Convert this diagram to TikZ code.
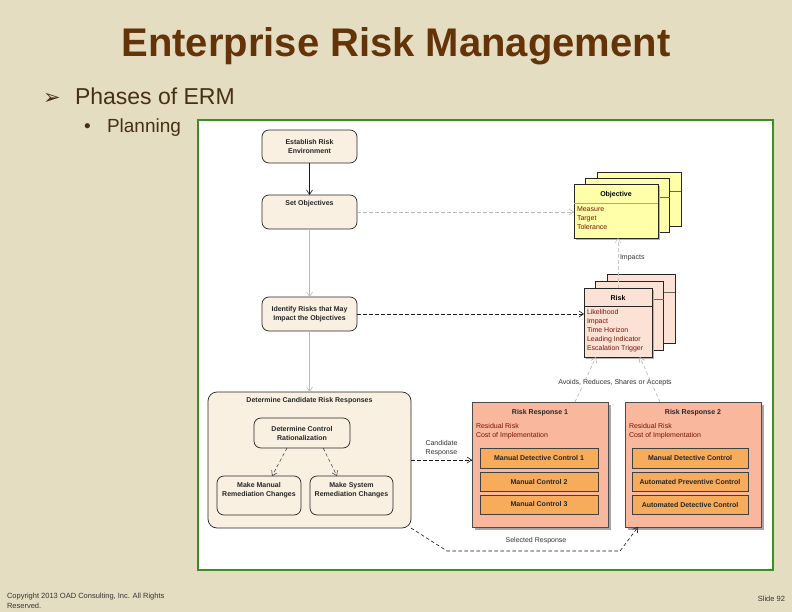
\documentclass[tikz,border=0pt]{standalone}
\usepackage{fontspec}
\setmainfont{Liberation Sans}
\newfontfamily\symfont{DejaVu Sans}
\usetikzlibrary{arrows.meta,shadows,calc}
\definecolor{bg}{RGB}{229,221,194}
\definecolor{titlebrown}{RGB}{100,52,8}
\definecolor{bodybrown}{RGB}{70,48,20}
\definecolor{framegreen}{RGB}{60,140,40}
\definecolor{actfill}{RGB}{249,240,226}
\definecolor{objfill}{RGB}{255,255,170}
\definecolor{riskfill}{RGB}{252,226,212}
\definecolor{respfill}{RGB}{249,183,158}
\definecolor{ctrlfill}{RGB}{247,172,92}
\definecolor{attrred}{RGB}{120,20,10}
\begin{document}
\begin{tikzpicture}[x=1pt,y=-1pt,
  every node/.style={inner sep=0pt, outer sep=0pt},
  dfont/.style={font=\fontsize{7}{9}\selectfont},
  dbold/.style={font=\fontsize{7}{9}\selectfont\bfseries},
  actbox/.style={draw=black!85, line width=0.7pt, fill=actfill, rounded corners=7pt,
    align=center, dbold, text=black!85},
  classbox/.style={draw=black!85, line width=0.6pt},
  objbox/.style={classbox, fill=objfill, minimum width=84pt, minimum height=54pt},
  riskbox/.style={classbox, fill=riskfill, minimum width=68pt, minimum height=69pt},
  sepline/.style={black!60, line width=0.5pt},
  attr/.style={dfont, text=attrred, align=left},
  respbox/.style={draw=black!70, line width=0.5pt, fill=respfill, minimum width=136pt,
    minimum height=125pt, drop shadow={shadow xshift=2.5pt, shadow yshift=-2.5pt, fill=black!35, opacity=1}},
  ctrlbox/.style={draw=black!75, line width=0.5pt, fill=ctrlfill, minimum height=19.5pt,
    dbold, text=black!85, drop shadow={shadow xshift=1.2pt, shadow yshift=-1.2pt, fill=black!55, opacity=1}},
  arr/.style={-{Straight Barb[length=4.5pt,width=6pt]}, line width=0.6pt},
  dline/.style={dash pattern=on 3.5pt off 2.5pt},
]
\useasboundingbox (0,0) rectangle (792,612);
\fill[bg] (0,0) rectangle (792,612);

% headings
\node[anchor=base, font=\fontsize{40}{48}\selectfont\bfseries, text=titlebrown] (title) at (396,57) {Enterprise Risk Management};
\node[anchor=base west, font=\symfont\bfseries\fontsize{21}{24}\selectfont, text=bodybrown] (arrowb) at (43,105) {➢};
\node[anchor=base west, font=\fontsize{23}{27}\selectfont, text=bodybrown] (phases) at (75,105) {Phases of ERM};
\node[anchor=base west, font=\fontsize{19}{22}\selectfont, text=bodybrown] (bul) at (84,133) {•};
\node[anchor=base west, font=\fontsize{19}{22}\selectfont, text=bodybrown] (planning) at (107,133) {Planning};

% frame
\node[draw=framegreen, line width=1.2pt, fill=white, minimum width=575pt, minimum height=450pt] (frame) at (485.5,345) {};

% activities
\node[actbox, minimum width=95pt, minimum height=33pt] (est) at (309.5,146.5) {Establish Risk\\Environment};
\node[actbox, minimum width=95pt, minimum height=34pt] (setobj) at (309.5,212) {Set Objectives\\\strut\\[-2pt]\strut};
\node[actbox, minimum width=95pt, minimum height=34pt] (ident) at (309.5,314) {Identify Risks that May\\Impact the Objectives};

% candidate group
\node[actbox, rounded corners=9pt, minimum width=203pt, minimum height=136pt] (cand) at (309.5,460) {};
\node[dbold, text=black!85] (candt) at ($(cand.north)+(0,9)$) {Determine Candidate Risk Responses};
\node[actbox, minimum width=96pt, minimum height=30pt] (dcr) at (302,433) {Determine Control\\Rationalization};
\node[actbox, minimum width=84pt, minimum height=39pt] (mmr) at (259,495.5) {Make Manual\\Remediation Changes\\\strut};
\node[actbox, minimum width=83pt, minimum height=39pt] (msr) at (351.5,495.5) {Make System\\Remediation Changes\\\strut};

% objective stack
\node[objbox] (obj3) at (639,199) {};
\draw[sepline] ($(obj3.north west)+(0,19)$) -- ($(obj3.north east)+(0,19)$);
\node[objbox] (obj2) at (627.5,205) {};
\draw[sepline] ($(obj2.north west)+(0,19)$) -- ($(obj2.north east)+(0,19)$);
\node[objbox, drop shadow={shadow xshift=2pt, shadow yshift=-2pt, fill=black!30, opacity=1}] (obj) at (616,211) {};
\draw[sepline, black!35] ($(obj.north west)+(0,19)$) -- ($(obj.north east)+(0,19)$);
\node[dbold] (objt) at ($(obj.north)+(0,11)$) {Objective};
\node[attr, anchor=north west] (obja) at ($(obj.north west)+(3,22.5)$) {Measure\\Target\\Tolerance};

% risk stack
\node[riskbox] (risk3) at (641,308.5) {};
\draw[sepline] ($(risk3.north west)+(0,18)$) -- ($(risk3.north east)+(0,18)$);
\node[riskbox] (risk2) at (629.5,315.5) {};
\draw[sepline] ($(risk2.north west)+(0,18)$) -- ($(risk2.north east)+(0,18)$);
\node[riskbox, drop shadow={shadow xshift=2pt, shadow yshift=-2pt, fill=black!30, opacity=1}] (risk) at (618,322.5) {};
\draw[sepline, black!85] ($(risk.north west)+(0,18)$) -- ($(risk.north east)+(0,18)$);
\node[dbold] (riskt) at ($(risk.north)+(0,10)$) {Risk};
\node[attr, anchor=north west] (riska) at ($(risk.north west)+(3,21.5)$) {Likelihood\\Impact\\Time Horizon\\Leading Indicator\\Escalation Trigger};

% risk responses
\node[respbox] (rr1) at (540,464.5) {};
\node[dbold, text=black!85] (rr1t) at ($(rr1.north)+(0,11)$) {Risk Response 1};
\node[attr, anchor=north west] (rr1a) at ($(rr1.north west)+(4,21)$) {Residual Risk\\Cost of Implementation};
\node[ctrlbox, minimum width=118pt] (c11) at (539,458) {Manual Detective Control 1};
\node[ctrlbox, minimum width=118pt] (c12) at (539,481.5) {Manual Control 2};
\node[ctrlbox, minimum width=118pt] (c13) at (539,504.5) {Manual Control 3};

\node[respbox] (rr2) at (693,464.5) {};
\node[dbold, text=black!85] (rr2t) at ($(rr2.north)+(0,11)$) {Risk Response 2};
\node[attr, anchor=north west] (rr2a) at ($(rr2.north west)+(4,21)$) {Residual Risk\\Cost of Implementation};
\node[ctrlbox, minimum width=116pt] (c21) at (690,458) {Manual Detective Control};
\node[ctrlbox, minimum width=116pt] (c22) at (690,481.5) {Automated Preventive Control};
\node[ctrlbox, minimum width=116pt] (c23) at (690,504.5) {Automated Detective Control};

% connectors
\draw[arr, black!90] (est) -- (setobj);
\draw[arr, gray!55] (setobj) -- (ident);
\draw[arr, gray!55] (ident) -- (cand);
\draw[arr, gray!55, dline] (setobj.east) -- (setobj.east -| obj.west);
\draw[arr, black!90, dline] (ident.east) -- (ident.east -| risk.west);
\draw[arr, gray!45, dline] (risk.north) -- (risk.north |- obj.south)
  node[pos=0.6, right=2pt, dfont, text=black!80] (implbl) {Impacts};

\coordinate (r1top) at ($(rr1.north west)!0.757!(rr1.north east)$);
\coordinate (rk1) at ($(risk.south west)!0.176!(risk.south east)$);
\coordinate (r2top) at ($(rr2.north west)!0.257!(rr2.north east)$);
\coordinate (rk2) at ($(risk.south west)!0.82!(risk.south east)$);
\draw[arr, gray!60, dline] (r1top) -- (rk1);
\draw[arr, gray!60, dline] (r2top) -- (rk2);
\node[dfont, fill=white, inner sep=1pt, text=black!80] (avlbl) at (615,383) {Avoids, Reduces, Shares or Accepts};

\draw[arr, black!90, dline] (cand.east) -- (cand.east -| rr1.west)
  node[midway, above=4pt, align=center, dfont, text=black!80] (candlbl) {Candidate\\Response};

\coordinate (s1) at (447,551);
\coordinate (s2) at (620,551);
\coordinate (r2bot) at ($(rr2.south west)!0.096!(rr2.south east)$);
\draw[arr, black!90, dline] (cand.south east) -- (s1) -- (s2) -- (r2bot);
\node[dfont, text=black!80] (sellbl) at (536,541) {Selected Response};

\draw[arr, black!80, dline, line width=0.5pt] ($(dcr.south west)!0.344!(dcr.south east)$) -- ($(mmr.north west)!0.655!(mmr.north east)$);
\draw[arr, black!80, dline, line width=0.5pt] ($(dcr.south west)!0.72!(dcr.south east)$) -- ($(msr.north west)!0.325!(msr.north east)$);

% footer
\node[anchor=north west, align=left, font=\fontsize{7.5}{10}\selectfont, text=black!80] (copy) at (7,593) {Copyright 2013 OAD Consulting, Inc. All Rights\\Reserved.};
\node[anchor=base east, font=\fontsize{7.5}{10}\selectfont, text=black!80] (slide) at (785,601) {Slide 92};
\end{tikzpicture}
\end{document}
